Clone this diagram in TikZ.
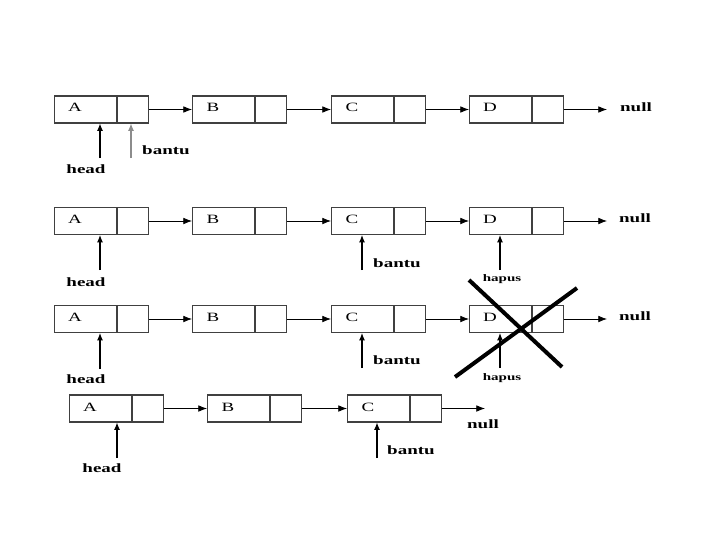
\documentclass[tikz,border=0pt]{standalone}
\usepackage{fontspec}
\setmainfont{Liberation Serif}
\usetikzlibrary{arrows.meta,calc}
\tikzset{
 data/.style={draw=black!75, line width=0.8pt, minimum width=46.5pt, minimum height=20.25pt, inner sep=0pt, anchor=west},
 ptrcell/.style={data, minimum width=23.25pt},
 letter/.style={font=\fontsize{9.5}{10}\selectfont, xscale=1.5, anchor=base, inner sep=0pt},
 lbl/.style={font=\fontsize{9.5}{10}\selectfont\bfseries, xscale=1.5, anchor=base, inner sep=0pt},
 lblsmall/.style={font=\fontsize{7.5}{8}\selectfont\bfseries, xscale=1.5, anchor=base, inner sep=0pt},
 link/.style={-{Latex[length=6.5pt,width=5pt]}, line width=0.6pt},
 ptr/.style={-{Latex[length=5.5pt,width=4.5pt]}, line width=0.8pt},
 cross/.style={line width=3pt},
}
\begin{document}
\begin{tikzpicture}[x=0.75pt,y=-0.75pt]
\useasboundingbox (0,0) rectangle (720,540);

% ---------- row 1 ----------
\foreach \n/\x in {A/54,B/192,C/331,D/469}{
  \node[data] (r1\n) at (\x,109.5) {};
  \node[ptrcell] (r1\n-p) at (r1\n.east) {};
  \node[letter] (r1\n-t) at (\x+21,111) {\n};
}
\draw[link] (r1A-p.east) -- (r1B.west);
\draw[link] (r1B-p.east) -- (r1C.west);
\draw[link] (r1C-p.east) -- (r1D.west);
\coordinate (r1e) at (607,109.5);
\draw[link] (r1D-p.east) -- (r1e);
\node[lbl] (r1null) at (636,111) {null};
\coordinate (r1h) at (100,158);
\draw[ptr] (r1h) -- (r1h |- r1A.south);
\node[lbl] (r1head) at (86,173) {head};
\coordinate (r1b) at (131,158);
\draw[ptr, black!45] (r1b) -- (r1b |- r1A.south);
\node[lbl] (r1bantu) at (166,154) {bantu};

% ---------- row 2 ----------
\foreach \n/\x in {A/54,B/192,C/331,D/469}{
  \node[data] (r2\n) at (\x,221) {};
  \node[ptrcell] (r2\n-p) at (r2\n.east) {};
  \node[letter] (r2\n-t) at (\x+21,223) {\n};
}
\draw[link] (r2A-p.east) -- (r2B.west);
\draw[link] (r2B-p.east) -- (r2C.west);
\draw[link] (r2C-p.east) -- (r2D.west);
\coordinate (r2e) at (607,221);
\draw[link] (r2D-p.east) -- (r2e);
\node[lbl] (r2null) at (635,222.5) {null};
\coordinate (r2h) at (100,270);
\draw[ptr] (r2h) -- (r2h |- r2A.south);
\node[lbl] (r2head) at (86,286) {head};
\coordinate (r2b) at (362,270);
\draw[ptr] (r2b) -- (r2b |- r2C.south);
\node[lbl] (r2bantu) at (397,267) {bantu};
\coordinate (r2x) at (500,270);
\draw[ptr] (r2x) -- (r2x |- r2D.south);
\node[lblsmall] (r2hapus) at (502,281.5) {hapus};

% ---------- row 3 ----------
\foreach \n/\x in {A/54,B/192,C/331,D/469}{
  \node[data] (r3\n) at (\x,319) {};
  \node[ptrcell] (r3\n-p) at (r3\n.east) {};
  \node[letter] (r3\n-t) at (\x+21,321) {\n};
}
\draw[link] (r3A-p.east) -- (r3B.west);
\draw[link] (r3B-p.east) -- (r3C.west);
\draw[link] (r3C-p.east) -- (r3D.west);
\coordinate (r3e) at (607,319);
\draw[link] (r3D-p.east) -- (r3e);
\node[lbl] (r3null) at (635,320.5) {null};
\coordinate (r3h) at (100,369);
\draw[ptr] (r3h) -- (r3h |- r3A.south);
\node[lbl] (r3head) at (86,383) {head};
\coordinate (r3b) at (362,368);
\draw[ptr] (r3b) -- (r3b |- r3C.south);
\node[lbl] (r3bantu) at (397,364) {bantu};
\coordinate (r3x) at (500,368);
\draw[ptr] (r3x) -- (r3x |- r3D.south);
\node[lblsmall] (r3hapus) at (502,380) {hapus};
% cross over D
\coordinate (x1a) at (469,280);
\coordinate (x1b) at (562,367);
\coordinate (x2a) at (455,377);
\coordinate (x2b) at (577,288);
\draw[cross] (x1a) -- (x1b);
\draw[cross] (x2a) -- (x2b);

% ---------- row 4 ----------
\foreach \n/\x in {A/69,B/207,C/347}{
  \node[data] (r4\n) at (\x,408.5) {};
  \node[ptrcell] (r4\n-p) at (r4\n.east) {};
  \node[letter] (r4\n-t) at (\x+21,411) {\n};
}
\draw[link] (r4A-p.east) -- (r4B.west);
\draw[link] (r4B-p.east) -- (r4C.west);
\coordinate (r4e) at (485,408.5);
\draw[link] (r4C-p.east) -- (r4e);
\node[lbl] (r4null) at (483,428) {null};
\coordinate (r4h) at (117,458);
\draw[ptr] (r4h) -- (r4h |- r4A.south);
\node[lbl] (r4head) at (102,472) {head};
\coordinate (r4b) at (377,458);
\draw[ptr] (r4b) -- (r4b |- r4C.south);
\node[lbl] (r4bantu) at (411,454) {bantu};
\end{tikzpicture}
\end{document}
